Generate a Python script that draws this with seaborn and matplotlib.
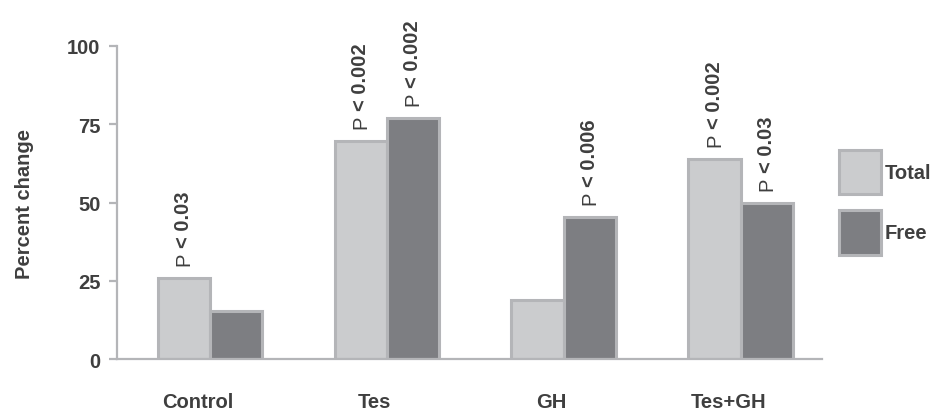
import pandas as pd
import matplotlib.pyplot as plt
import matplotlib.transforms as mtransforms
import seaborn as sns

groups = ['Control', 'Tes', 'GH', 'Tes+GH']
total_vals = [26.0, 69.8, 19.0, 64.0]
free_vals = [15.2, 77.1, 45.5, 50.0]
total_p = ['0.03', '0.002', '', '0.002']
free_p = ['', '0.002', '0.006', '0.03']
y_ticks = [0, 25, 50, 75, 100]

df = pd.DataFrame({
    'Group': groups * 2,
    'Series': ['Total'] * len(groups) + ['Free'] * len(groups),
    'Value': total_vals + free_vals,
})

sns.set_theme(style="white")
plt.rcParams['font.family'] = ['Liberation Sans', 'DejaVu Sans']

text_col = '#3f3f3f'
edge_col = '#b4b5b8'
light = '#cbccce'
dark = '#7d7e82'

fig = plt.figure(figsize=(9.35, 4.14), dpi=100)
ax = fig.add_axes([0.1251, 0.1304, 0.754, 0.7561])

sns.barplot(data=df, x='Group', y='Value', hue='Series', order=groups,
            hue_order=['Total', 'Free'], palette=[light, dark], width=0.59,
            gap=0, saturation=1, edgecolor=edge_col, linewidth=2.2, ax=ax)

ax.set_xlim(-0.525, 3.46)
ax.set_ylim(0, 100)
ax.set_yticks(y_ticks)
ax.set_xlabel('')
ax.set_ylabel('Percent change', fontsize=14.5, fontweight='bold',
              color=text_col, labelpad=24)

for s in ['top', 'right']:
    ax.spines[s].set_visible(False)
for s in ['left', 'bottom']:
    ax.spines[s].set_color(edge_col)
    ax.spines[s].set_linewidth(1.6)

ax.tick_params(axis='y', length=6, width=1.6, color=edge_col, direction='out',
               labelsize=14.5, labelcolor=text_col, pad=6, left=True)
ax.tick_params(axis='x', length=0, labelsize=14.5, labelcolor=text_col, pad=24)
for lab in ax.get_yticklabels() + ax.get_xticklabels():
    lab.set_fontweight('bold')

# category labels sit a bit left of the bar pairs in the original
shift = mtransforms.ScaledTranslation(-12 / 100, 0, fig.dpi_scale_trans)
for lab in ax.get_xticklabels():
    lab.set_transform(lab.get_transform() + shift)

# p-value annotations above bars
for cont, plist in zip(ax.containers, [total_p, free_p]):
    for bar, p in zip(cont, plist):
        if not p:
            continue
        x = bar.get_x() + bar.get_width() / 2
        h = bar.get_height()
        ax.annotate('P', (x, h), xytext=(0, 9), textcoords='offset points',
                    rotation=90, ha='center', va='bottom', fontsize=14.5,
                    color=text_col)
        ax.annotate('< ' + p, (x, h), xytext=(0, 22), textcoords='offset points',
                    rotation=90, ha='center', va='bottom', fontsize=14.5,
                    fontweight='bold', color=text_col, annotation_clip=False)

ax.legend(loc='upper left', bbox_to_anchor=(839 / 935, 1 - 151 / 414),
          bbox_transform=fig.transFigure, frameon=False, borderpad=0,
          borderaxespad=0, handlelength=2.1, handleheight=3.0,
          handletextpad=0.15, labelspacing=0.8,
          prop={'size': 14.5, 'weight': 'bold'}, labelcolor=text_col)

fig.savefig('out.png', dpi=100)
